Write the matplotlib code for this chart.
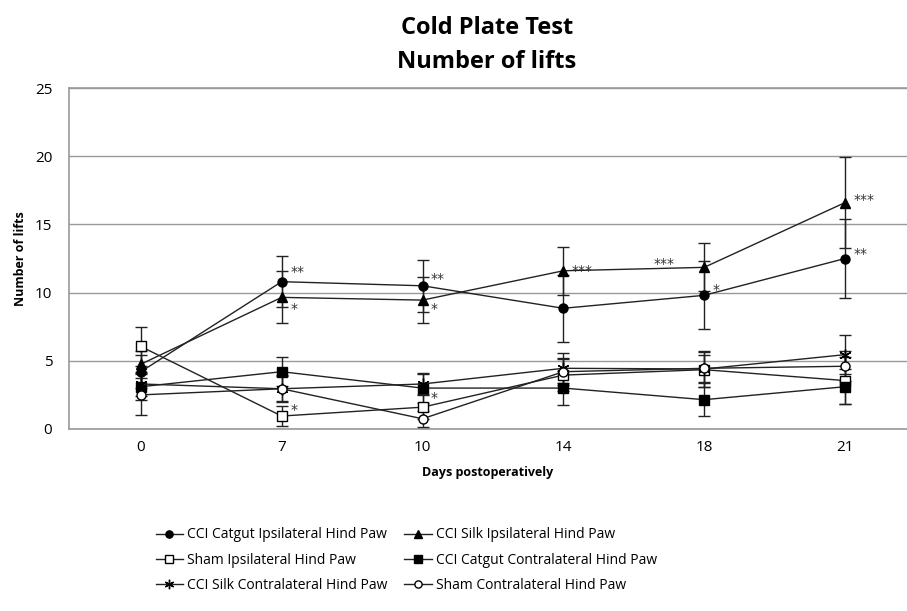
import matplotlib
matplotlib.use("Agg")
import matplotlib.pyplot as plt
from matplotlib.lines import Line2D
import numpy as np

days = ["0", "7", "10", "14", "18", "21"]
series_names = [
    "CCI Catgut Ipsilateral Hind Paw",
    "CCI Silk Ipsilateral Hind Paw",
    "Sham Ipsilateral Hind Paw",
    "CCI Catgut Contralateral Hind Paw",
    "CCI Silk Contralateral Hind Paw",
    "Sham Contralateral Hind Paw",
]
catgut_ipsi = [4.2, 10.8, 10.5, 8.85, 9.8, 12.5]
catgut_ipsi_err = [1.2, 1.85, 1.9, 2.45, 2.5, 2.9]
silk_ipsi = [4.75, 9.65, 9.45, 11.6, 11.85, 16.6]
silk_ipsi_err = [1.0, 1.9, 1.7, 1.75, 1.75, 3.35]
sham_ipsi = [6.05, 0.95, 1.6, 3.95, 4.35, 3.55]
sham_ipsi_err = [1.45, 0.7, 0.9, 1.2, 1.3, 1.7]
catgut_contra = [3.1, 4.2, 3.0, 3.0, 2.15, 3.1]
catgut_contra_err = [1.0, 1.05, 1.1, 1.25, 1.2, 1.3]
silk_contra = [3.3, 2.95, 3.3, 4.45, 4.4, 5.45]
silk_contra_err = [0.9, 1.0, 0.75, 1.1, 1.3, 1.45]
sham_contra = [2.5, 2.95, 0.75, 4.2, 4.45, 4.6]
sham_contra_err = [1.5, 0.9, 0.6, 1.0, 1.0, 1.1]

# significance annotations: (day index, y value, text, dx in data units)
annotations = [
    (1, 11.5, "**", 0.06), (1, 8.8, "*", 0.06), (1, 1.4, "*", 0.06),
    (2, 11.0, "**", 0.06), (2, 8.8, "*", 0.06), (2, 2.3, "*", 0.06),
    (3, 11.6, "***", 0.06),
    (4, 12.1, "***", -0.36), (4, 10.2, "*", 0.06),
    (5, 16.8, "***", 0.06), (5, 12.8, "**", 0.06),
]

plt.rcParams['font.family'] = ['Open Sans', 'DejaVu Sans']

fig = plt.figure(figsize=(9.07, 6.11), dpi=100)
ax = fig.add_axes([69/907, 1 - 429/611, 1 - 69/907, (429 - 88)/611])

x = np.arange(len(days))
styles = [
    dict(marker='o', mfc='black', ms=6.5),
    dict(marker='^', mfc='black', ms=6.5),
    dict(marker='s', mfc='white', ms=6.5),
    dict(marker='s', mfc='black', ms=6.5),
    dict(marker=(6, 2, 0), mfc='black', ms=8.5),
    dict(marker='o', mfc='white', ms=6.5),
]
data = [
    (catgut_ipsi, catgut_ipsi_err),
    (silk_ipsi, silk_ipsi_err),
    (sham_ipsi, sham_ipsi_err),
    (catgut_contra, catgut_contra_err),
    (silk_contra, silk_contra_err),
    (sham_contra, sham_contra_err),
]
handles = []
for (vals, errs), st, name in zip(data, styles, series_names):
    ax.errorbar(x, vals, yerr=errs, color='#222222', lw=1.0, mec='black',
                mew=1.0, ecolor='#222222', elinewidth=1.0, capsize=4,
                capthick=1.0, zorder=3, **st)
    lst = dict(st)
    lst['ms'] = lst['ms'] * 0.8
    handles.append(Line2D([], [], color='#222222', lw=1.0, mec='black', mew=1.0, **lst))

for i, yv, txt, dx in annotations:
    ax.text(x[i] + dx, yv, txt, fontsize=10, color='#333333', va='center', ha='left',
            family=['DejaVu Sans'])

ax.set_xlim(-0.51, 5.44)
ax.set_ylim(0, 25)
ax.set_yticks([0, 5, 10, 15, 20, 25])
ax.set_xticks(x)
ax.set_xticklabels(days)
ax.tick_params(length=0, labelsize=11, pad=8)
ax.tick_params(axis='y', pad=12)
ax.yaxis.grid(True, color='#999999', lw=1.0)
ax.set_axisbelow(True)
for s in ['left', 'top', 'bottom']:
    ax.spines[s].set_color('#999999')
    ax.spines[s].set_linewidth(1.2)
ax.spines['right'].set_visible(False)

ax.set_xlabel("Days postoperatively", fontsize=9, fontweight='bold', labelpad=8)
ax.set_ylabel("Number of lifts", fontsize=9, fontweight='bold', labelpad=6)

fig.text(487/907, 1 - 28/611, "Cold Plate Test", ha='center', va='center',
         fontsize=17, fontweight='bold')
fig.text(487/907, 1 - 62/611, "Number of lifts", ha='center', va='center',
         fontsize=17, fontweight='bold')

order = [0, 2, 4, 1, 3, 5]
leg = fig.legend(handles=[handles[i] for i in order],
                 labels=[series_names[i] for i in order], ncol=2,
                 loc='upper left', bbox_to_anchor=(143/907, 1 - 515/611),
                 frameon=False, fontsize=10, handlelength=2.0,
                 columnspacing=1.2, labelspacing=0.75, handletextpad=0.3)

fig.savefig("out.png", dpi=100)
